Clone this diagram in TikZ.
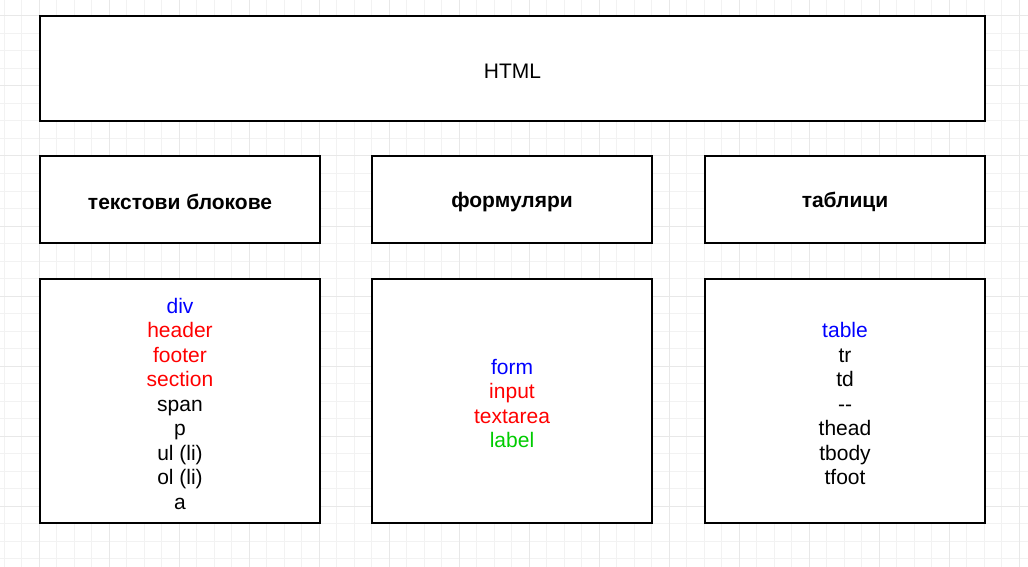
\documentclass[tikz,border=0pt]{standalone}
\usepackage{fontspec}
\setmainfont{Liberation Sans}
\definecolor{tagblue}{RGB}{0,0,255}
\definecolor{tagred}{RGB}{255,0,0}
\definecolor{taggreen}{RGB}{0,204,0}
\begin{document}
\begin{tikzpicture}[x=1pt,y=-1pt]
		\tikzset{block/.style = {shape=rectangle,draw,line width=2pt,fill=white}}
		\tikzset{head/.style = {block,minimum width=280pt,minimum height=87pt}}
		\tikzset{list/.style = {block,minimum width=280pt,minimum height=244pt}}
		\tikzset{words/.style = {align=center,yshift=-2.5pt,font=\fontsize{21}{24.5}\selectfont}}
		\useasboundingbox (0,0) rectangle (1028,567);
		% grid
		\foreach \i in {0,...,58} \draw[black!5,line width=1pt] (4+17.5*\i,0) -- (4+17.5*\i,567);
		\foreach \j in {0,...,33} \draw[black!5,line width=1pt] (0,-1.5+17.5*\j) -- (1028,-1.5+17.5*\j);
		\foreach \i in {0,...,14} \draw[black!9,line width=1pt] (39+70*\i,0) -- (39+70*\i,567);
		\foreach \j in {0,...,8} \draw[black!9,line width=1pt] (0,16+70*\j) -- (1028,16+70*\j);
		% boxes
		\node[block,minimum width=945pt,minimum height=105pt] (html) at (512.5,68.5) {};
		\node[head] (text) at (180,199.5) {};
		\node[head] (forms) at (512,199.5) {};
		\node[head] (tables) at (845,199.5) {};
		\node[list] (textlist) at (180,401) {};
		\node[list] (formlist) at (512,401) {};
		\node[list] (tablelist) at (845,401) {};
		% texts
		\node[words] (htmlname) at (html.center) {HTML};
		\node[words,font=\fontsize{21}{24.5}\selectfont\bfseries] (textname) at (text.center) {текстови блокове};
		\node[words,font=\fontsize{21}{24.5}\selectfont\bfseries] (formsname) at (forms.center) {формуляри};
		\node[words,font=\fontsize{21}{24.5}\selectfont\bfseries] (tablesname) at (tables.center) {таблици};
		\node[words] (texttags) at (textlist.center) {\textcolor{tagblue}{div}\\\textcolor{tagred}{header}\\\textcolor{tagred}{footer}\\\textcolor{tagred}{section}\\span\\p\\ul (li)\\ol (li)\\a};
		\node[words] (formtags) at (formlist.center) {\textcolor{tagblue}{form}\\\textcolor{tagred}{input}\\\textcolor{tagred}{textarea}\\\textcolor{taggreen}{label}};
		\node[words] (tabletags) at (tablelist.center) {\textcolor{tagblue}{table}\\tr\\td\\-{}-\\thead\\tbody\\tfoot};
	\end{tikzpicture}
\end{document}
